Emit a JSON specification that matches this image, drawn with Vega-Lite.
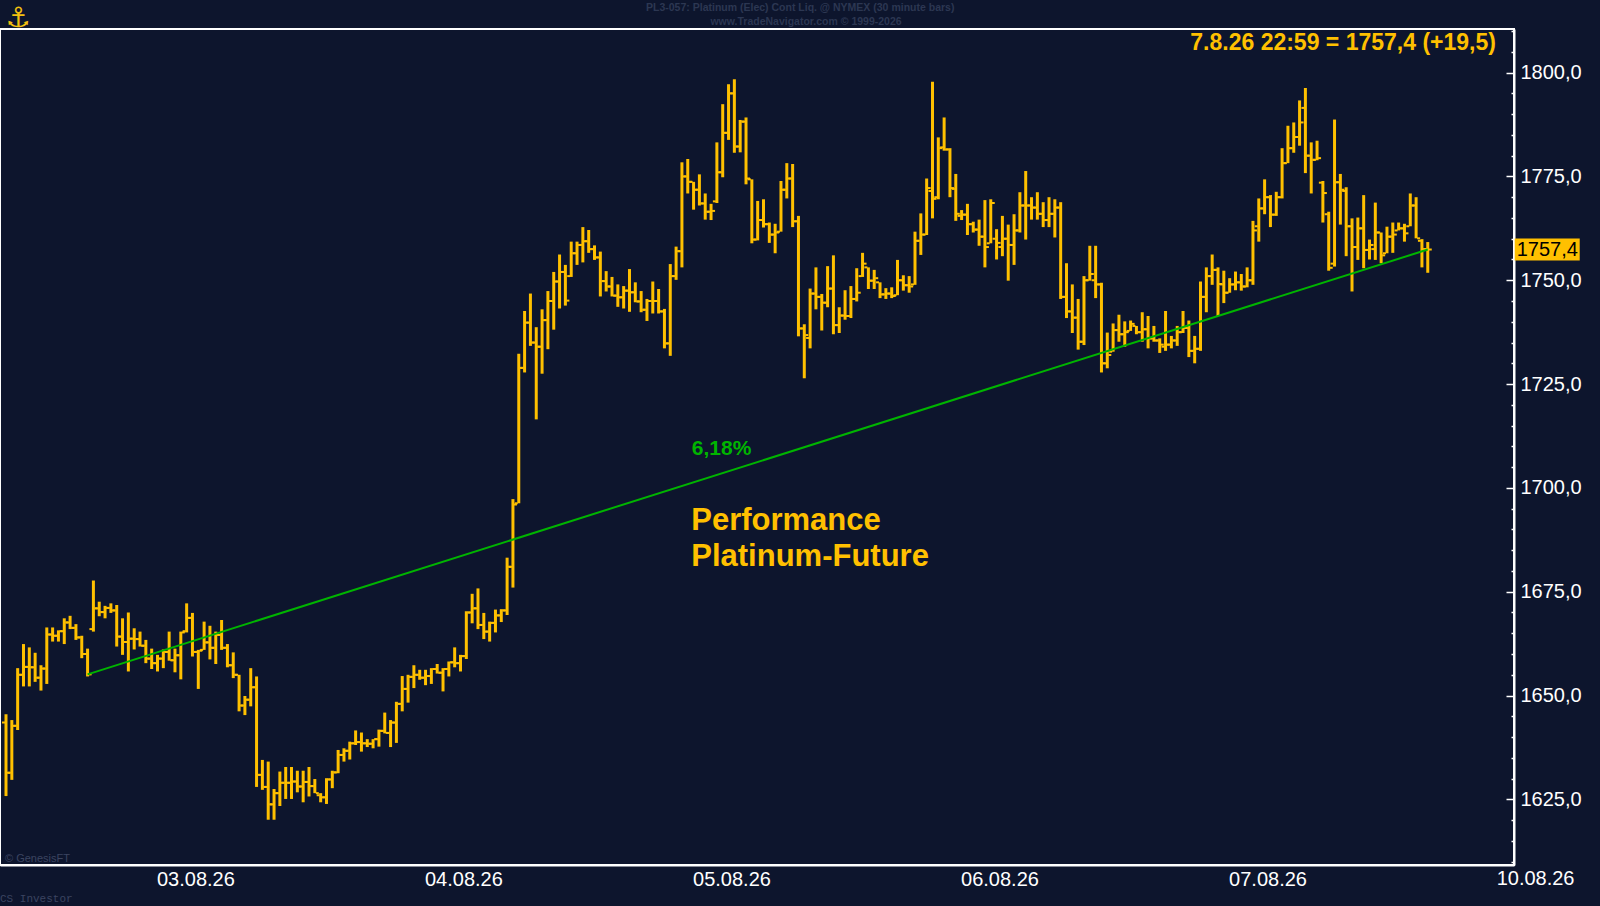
{
  "$schema": "https://vega.github.io/schema/vega-lite/v6.json",
  "width": 1514,
  "height": 836,
  "autosize": "none",
  "padding": {"left": 0, "top": 29, "right": 86, "bottom": 41},
  "background": "#0D152D",
  "datasets": {
    "bars": [
      {"i":0,"o":1643.5,"h":1645.5,"l":1625.8,"c":1631.4},
      {"i":1,"o":1631.4,"h":1644.1,"l":1629.7,"c":1642.7},
      {"i":2,"o":1642.7,"h":1656.6,"l":1641.7,"c":1655.0},
      {"i":3,"o":1655.0,"h":1662.4,"l":1652.2,"c":1656.9},
      {"i":4,"o":1656.9,"h":1661.6,"l":1652.2,"c":1656.8},
      {"i":5,"o":1656.8,"h":1660.3,"l":1653.3,"c":1654.3},
      {"i":6,"o":1654.3,"h":1657.3,"l":1651.2,"c":1656.5},
      {"i":7,"o":1656.5,"h":1666.4,"l":1652.8,"c":1664.7},
      {"i":8,"o":1664.7,"h":1666.4,"l":1663.0,"c":1664.4},
      {"i":9,"o":1664.4,"h":1665.7,"l":1663.0,"c":1665.5},
      {"i":10,"o":1665.5,"h":1668.6,"l":1662.4,"c":1667.6},
      {"i":11,"o":1667.6,"h":1669.2,"l":1666.0,"c":1666.3},
      {"i":12,"o":1666.3,"h":1667.2,"l":1663.4,"c":1664.0},
      {"i":13,"o":1664.0,"h":1664.4,"l":1659.0,"c":1660.0},
      {"i":14,"o":1660.0,"h":1661.3,"l":1654.6,"c":1655.1},
      {"i":15,"o":1666.0,"h":1677.7,"l":1665.4,"c":1671.0},
      {"i":16,"o":1671.0,"h":1672.6,"l":1669.1,"c":1670.1},
      {"i":17,"o":1670.1,"h":1671.6,"l":1668.6,"c":1671.1},
      {"i":18,"o":1671.1,"h":1672.2,"l":1669.9,"c":1670.5},
      {"i":19,"o":1670.5,"h":1671.8,"l":1661.8,"c":1664.2},
      {"i":20,"o":1664.2,"h":1668.6,"l":1659.8,"c":1662.9},
      {"i":21,"o":1662.9,"h":1670.0,"l":1655.8,"c":1663.7},
      {"i":22,"o":1663.7,"h":1666.2,"l":1661.1,"c":1663.6},
      {"i":23,"o":1663.6,"h":1665.4,"l":1661.8,"c":1662.0},
      {"i":24,"o":1662.0,"h":1663.4,"l":1657.8,"c":1658.9},
      {"i":25,"o":1658.9,"h":1661.3,"l":1656.4,"c":1657.8},
      {"i":26,"o":1657.8,"h":1659.8,"l":1655.8,"c":1658.9},
      {"i":27,"o":1658.9,"h":1661.1,"l":1656.6,"c":1660.5},
      {"i":28,"o":1660.5,"h":1665.4,"l":1658.4,"c":1658.5},
      {"i":29,"o":1658.5,"h":1661.3,"l":1655.6,"c":1659.7},
      {"i":30,"o":1659.7,"h":1665.4,"l":1653.9,"c":1665.2},
      {"i":31,"o":1665.5,"h":1672.2,"l":1665.2,"c":1668.7},
      {"i":32,"o":1668.7,"h":1669.9,"l":1659.4,"c":1660.5},
      {"i":33,"o":1660.5,"h":1661.0,"l":1651.6,"c":1660.8},
      {"i":34,"o":1661.0,"h":1667.8,"l":1661.0,"c":1662.8},
      {"i":35,"o":1662.8,"h":1666.8,"l":1658.7,"c":1661.5},
      {"i":36,"o":1661.5,"h":1665.4,"l":1657.6,"c":1664.6},
      {"i":37,"o":1664.6,"h":1668.2,"l":1661.0,"c":1661.5},
      {"i":38,"o":1661.5,"h":1662.4,"l":1656.8,"c":1657.3},
      {"i":39,"o":1657.3,"h":1660.4,"l":1654.2,"c":1655.0},
      {"i":40,"o":1655.0,"h":1655.0,"l":1646.2,"c":1647.6},
      {"i":41,"o":1647.6,"h":1649.9,"l":1645.3,"c":1649.0},
      {"i":42,"o":1649.0,"h":1656.6,"l":1647.4,"c":1652.0},
      {"i":43,"o":1652.0,"h":1654.6,"l":1628.0,"c":1630.9},
      {"i":44,"o":1630.9,"h":1634.5,"l":1627.3,"c":1628.0},
      {"i":45,"o":1628.0,"h":1634.1,"l":1620.1,"c":1623.8},
      {"i":46,"o":1623.8,"h":1627.5,"l":1620.1,"c":1626.5},
      {"i":47,"o":1626.5,"h":1631.7,"l":1623.4,"c":1629.0},
      {"i":48,"o":1629.0,"h":1632.8,"l":1625.1,"c":1629.0},
      {"i":49,"o":1629.0,"h":1632.8,"l":1625.1,"c":1629.3},
      {"i":50,"o":1629.3,"h":1631.9,"l":1626.7,"c":1628.1},
      {"i":51,"o":1628.1,"h":1631.9,"l":1624.3,"c":1629.2},
      {"i":52,"o":1629.2,"h":1632.8,"l":1625.7,"c":1628.2},
      {"i":53,"o":1628.2,"h":1629.9,"l":1626.5,"c":1626.5},
      {"i":54,"o":1626.0,"h":1626.5,"l":1624.3,"c":1625.5},
      {"i":55,"o":1625.5,"h":1630.1,"l":1623.9,"c":1629.8},
      {"i":56,"o":1629.8,"h":1631.9,"l":1627.7,"c":1631.5},
      {"i":57,"o":1631.5,"h":1636.9,"l":1631.3,"c":1635.7},
      {"i":58,"o":1635.7,"h":1637.3,"l":1634.1,"c":1636.7},
      {"i":59,"o":1636.7,"h":1638.9,"l":1634.6,"c":1638.5},
      {"i":60,"o":1638.5,"h":1641.6,"l":1638.1,"c":1638.8},
      {"i":61,"o":1638.8,"h":1641.1,"l":1636.5,"c":1638.5},
      {"i":62,"o":1638.5,"h":1639.5,"l":1637.6,"c":1638.4},
      {"i":63,"o":1638.4,"h":1639.5,"l":1637.3,"c":1639.5},
      {"i":64,"o":1639.5,"h":1641.8,"l":1637.7,"c":1641.5},
      {"i":65,"o":1641.5,"h":1645.9,"l":1640.9,"c":1641.0},
      {"i":66,"o":1641.0,"h":1644.1,"l":1637.6,"c":1643.5},
      {"i":67,"o":1643.5,"h":1648.5,"l":1638.6,"c":1648.0},
      {"i":68,"o":1648.0,"h":1654.7,"l":1646.2,"c":1651.6},
      {"i":69,"o":1651.6,"h":1655.0,"l":1648.3,"c":1654.5},
      {"i":70,"o":1654.5,"h":1657.3,"l":1651.8,"c":1655.0},
      {"i":71,"o":1655.0,"h":1656.2,"l":1653.8,"c":1654.3},
      {"i":72,"o":1654.3,"h":1656.2,"l":1652.5,"c":1654.7},
      {"i":73,"o":1654.7,"h":1656.6,"l":1652.8,"c":1656.4},
      {"i":74,"o":1656.4,"h":1657.6,"l":1655.3,"c":1655.5},
      {"i":75,"o":1655.5,"h":1656.6,"l":1651.0,"c":1656.4},
      {"i":76,"o":1656.4,"h":1658.2,"l":1654.6,"c":1658.0},
      {"i":77,"o":1658.0,"h":1661.6,"l":1656.8,"c":1657.8},
      {"i":78,"o":1657.8,"h":1659.8,"l":1655.8,"c":1659.5},
      {"i":79,"o":1659.5,"h":1670.3,"l":1658.8,"c":1670.0},
      {"i":80,"o":1670.0,"h":1674.5,"l":1667.4,"c":1671.0},
      {"i":81,"o":1671.0,"h":1675.8,"l":1666.0,"c":1667.0},
      {"i":82,"o":1667.0,"h":1669.9,"l":1663.6,"c":1665.4},
      {"i":83,"o":1665.4,"h":1667.8,"l":1663.0,"c":1667.5},
      {"i":84,"o":1667.5,"h":1670.7,"l":1665.2,"c":1669.3},
      {"i":85,"o":1669.3,"h":1670.8,"l":1667.7,"c":1670.5},
      {"i":86,"o":1670.5,"h":1683.2,"l":1669.4,"c":1681.0},
      {"i":87,"o":1681.0,"h":1697.3,"l":1676.0,"c":1696.0},
      {"i":88,"o":1696.3,"h":1732.3,"l":1696.3,"c":1728.9},
      {"i":89,"o":1728.9,"h":1742.6,"l":1727.8,"c":1739.8},
      {"i":90,"o":1739.8,"h":1746.8,"l":1734.2,"c":1735.0},
      {"i":91,"o":1735.0,"h":1738.7,"l":1716.5,"c":1734.0},
      {"i":92,"o":1734.0,"h":1743.0,"l":1727.5,"c":1740.4},
      {"i":93,"o":1740.4,"h":1747.4,"l":1733.4,"c":1745.0},
      {"i":94,"o":1745.0,"h":1752.0,"l":1738.1,"c":1749.7},
      {"i":95,"o":1749.7,"h":1756.2,"l":1743.2,"c":1752.0},
      {"i":96,"o":1752.0,"h":1753.7,"l":1743.9,"c":1745.1},
      {"i":97,"o":1751.0,"h":1759.3,"l":1750.8,"c":1756.5},
      {"i":98,"o":1756.5,"h":1759.3,"l":1753.7,"c":1758.5},
      {"i":99,"o":1758.5,"h":1762.8,"l":1754.3,"c":1759.4},
      {"i":100,"o":1759.4,"h":1762.1,"l":1756.6,"c":1757.5},
      {"i":101,"o":1757.5,"h":1758.4,"l":1754.9,"c":1755.5},
      {"i":102,"o":1755.5,"h":1756.9,"l":1746.1,"c":1749.8},
      {"i":103,"o":1749.8,"h":1752.2,"l":1747.3,"c":1748.5},
      {"i":104,"o":1748.5,"h":1750.8,"l":1746.1,"c":1746.3},
      {"i":105,"o":1746.3,"h":1749.0,"l":1743.6,"c":1745.9},
      {"i":106,"o":1745.9,"h":1748.6,"l":1743.2,"c":1747.5},
      {"i":107,"o":1747.5,"h":1752.7,"l":1742.4,"c":1747.1},
      {"i":108,"o":1747.1,"h":1749.5,"l":1744.7,"c":1744.9},
      {"i":109,"o":1744.9,"h":1747.4,"l":1742.3,"c":1742.9},
      {"i":110,"o":1742.9,"h":1745.5,"l":1740.2,"c":1745.0},
      {"i":111,"o":1745.0,"h":1749.7,"l":1742.0,"c":1745.0},
      {"i":112,"o":1745.0,"h":1747.9,"l":1742.0,"c":1742.5},
      {"i":113,"o":1742.5,"h":1743.1,"l":1733.6,"c":1734.8},
      {"i":114,"o":1734.8,"h":1753.9,"l":1731.8,"c":1751.0},
      {"i":115,"o":1751.0,"h":1758.1,"l":1750.1,"c":1757.0},
      {"i":116,"o":1757.0,"h":1778.4,"l":1753.1,"c":1775.0},
      {"i":117,"o":1775.0,"h":1779.2,"l":1770.9,"c":1773.7},
      {"i":118,"o":1773.7,"h":1773.7,"l":1767.0,"c":1771.8},
      {"i":119,"o":1771.8,"h":1775.5,"l":1768.0,"c":1768.5},
      {"i":120,"o":1768.5,"h":1770.9,"l":1764.6,"c":1766.5},
      {"i":121,"o":1766.5,"h":1768.4,"l":1764.5,"c":1766.7},
      {"i":122,"o":1769.0,"h":1783.2,"l":1768.6,"c":1776.0},
      {"i":123,"o":1776.0,"h":1792.4,"l":1774.8,"c":1785.5},
      {"i":124,"o":1785.5,"h":1797.2,"l":1783.8,"c":1795.0},
      {"i":125,"o":1795.0,"h":1798.4,"l":1780.7,"c":1782.2},
      {"i":126,"o":1782.2,"h":1788.6,"l":1780.8,"c":1788.2},
      {"i":127,"o":1788.2,"h":1789.2,"l":1773.1,"c":1774.5},
      {"i":128,"o":1774.3,"h":1774.3,"l":1758.9,"c":1759.8},
      {"i":129,"o":1759.8,"h":1769.1,"l":1759.6,"c":1764.5},
      {"i":130,"o":1764.5,"h":1769.5,"l":1762.7,"c":1763.5},
      {"i":131,"o":1763.5,"h":1763.9,"l":1759.0,"c":1761.0},
      {"i":132,"o":1761.0,"h":1763.6,"l":1756.5,"c":1761.5},
      {"i":133,"o":1761.7,"h":1773.9,"l":1761.7,"c":1771.8},
      {"i":134,"o":1771.8,"h":1778.2,"l":1769.7,"c":1774.5},
      {"i":135,"o":1774.5,"h":1778.0,"l":1762.8,"c":1764.2},
      {"i":136,"o":1764.2,"h":1765.5,"l":1736.5,"c":1738.4},
      {"i":137,"o":1738.4,"h":1739.4,"l":1726.4,"c":1736.8},
      {"i":138,"o":1736.1,"h":1748.0,"l":1733.6,"c":1746.8},
      {"i":139,"o":1746.8,"h":1753.1,"l":1743.0,"c":1746.0},
      {"i":140,"o":1746.0,"h":1746.7,"l":1737.9,"c":1744.6},
      {"i":141,"o":1744.6,"h":1753.4,"l":1743.5,"c":1748.0},
      {"i":142,"o":1748.0,"h":1756.0,"l":1737.0,"c":1739.2},
      {"i":143,"o":1739.2,"h":1743.5,"l":1737.3,"c":1741.5},
      {"i":144,"o":1741.5,"h":1747.6,"l":1740.5,"c":1741.4},
      {"i":145,"o":1741.4,"h":1748.6,"l":1740.9,"c":1745.5},
      {"i":146,"o":1745.5,"h":1752.9,"l":1744.9,"c":1747.0},
      {"i":147,"o":1751.0,"h":1756.6,"l":1750.8,"c":1754.0},
      {"i":148,"o":1753.1,"h":1753.1,"l":1747.9,"c":1749.9},
      {"i":149,"o":1749.9,"h":1752.5,"l":1747.9,"c":1750.5},
      {"i":150,"o":1749.5,"h":1749.5,"l":1745.7,"c":1746.6},
      {"i":151,"o":1746.6,"h":1748.1,"l":1745.5,"c":1746.8},
      {"i":152,"o":1746.8,"h":1748.3,"l":1745.7,"c":1746.2},
      {"i":153,"o":1746.4,"h":1754.9,"l":1746.4,"c":1750.0},
      {"i":154,"o":1750.0,"h":1751.2,"l":1747.5,"c":1748.8},
      {"i":155,"o":1748.8,"h":1751.0,"l":1747.0,"c":1748.5},
      {"i":156,"o":1749.0,"h":1761.7,"l":1748.9,"c":1759.5},
      {"i":157,"o":1759.5,"h":1766.1,"l":1756.1,"c":1761.0},
      {"i":158,"o":1761.0,"h":1774.5,"l":1760.9,"c":1772.2},
      {"i":159,"o":1771.5,"h":1797.8,"l":1764.9,"c":1769.6},
      {"i":160,"o":1770.0,"h":1784.4,"l":1769.5,"c":1781.8},
      {"i":161,"o":1782.0,"h":1789.2,"l":1781.2,"c":1781.5},
      {"i":162,"o":1781.5,"h":1781.8,"l":1770.0,"c":1772.2},
      {"i":163,"o":1772.0,"h":1775.6,"l":1764.3,"c":1766.0},
      {"i":164,"o":1765.5,"h":1766.9,"l":1764.5,"c":1765.8},
      {"i":165,"o":1765.8,"h":1768.4,"l":1760.9,"c":1763.5},
      {"i":166,"o":1763.5,"h":1764.1,"l":1761.5,"c":1762.2},
      {"i":167,"o":1762.2,"h":1764.6,"l":1758.3,"c":1760.5},
      {"i":168,"o":1760.5,"h":1769.3,"l":1753.1,"c":1758.0},
      {"i":169,"o":1758.9,"h":1769.5,"l":1758.9,"c":1768.6},
      {"i":170,"o":1760.0,"h":1762.3,"l":1755.0,"c":1759.0},
      {"i":171,"o":1758.0,"h":1765.5,"l":1755.8,"c":1760.0},
      {"i":172,"o":1760.0,"h":1763.4,"l":1749.9,"c":1758.5},
      {"i":173,"o":1758.5,"h":1765.9,"l":1753.7,"c":1762.0},
      {"i":174,"o":1762.0,"h":1771.2,"l":1761.5,"c":1768.0},
      {"i":175,"o":1768.0,"h":1776.3,"l":1759.8,"c":1768.0},
      {"i":176,"o":1768.0,"h":1770.0,"l":1764.6,"c":1767.5},
      {"i":177,"o":1767.5,"h":1771.2,"l":1764.6,"c":1766.0},
      {"i":178,"o":1766.0,"h":1768.8,"l":1762.8,"c":1764.5},
      {"i":179,"o":1764.5,"h":1770.0,"l":1762.8,"c":1766.0},
      {"i":180,"o":1766.0,"h":1769.5,"l":1760.3,"c":1767.5},
      {"i":181,"o":1767.5,"h":1768.8,"l":1745.5,"c":1746.0},
      {"i":182,"o":1746.0,"h":1754.1,"l":1740.9,"c":1742.5},
      {"i":183,"o":1742.5,"h":1749.0,"l":1737.3,"c":1741.0},
      {"i":184,"o":1741.0,"h":1745.5,"l":1733.3,"c":1735.2},
      {"i":185,"o":1735.2,"h":1751.0,"l":1734.4,"c":1750.0},
      {"i":186,"o":1750.0,"h":1758.3,"l":1749.9,"c":1751.5},
      {"i":187,"o":1750.0,"h":1758.3,"l":1745.7,"c":1749.0},
      {"i":188,"o":1749.0,"h":1749.4,"l":1727.8,"c":1730.0},
      {"i":189,"o":1730.0,"h":1737.4,"l":1728.8,"c":1732.0},
      {"i":190,"o":1732.8,"h":1739.6,"l":1732.8,"c":1738.0},
      {"i":191,"o":1738.0,"h":1741.7,"l":1735.2,"c":1737.0},
      {"i":192,"o":1737.0,"h":1740.1,"l":1734.0,"c":1737.5},
      {"i":193,"o":1737.8,"h":1740.3,"l":1737.8,"c":1739.5},
      {"i":194,"o":1739.0,"h":1739.0,"l":1737.0,"c":1737.5},
      {"i":195,"o":1737.5,"h":1742.3,"l":1735.2,"c":1738.2},
      {"i":196,"o":1738.2,"h":1741.4,"l":1733.6,"c":1736.0},
      {"i":197,"o":1736.0,"h":1739.0,"l":1735.2,"c":1735.5},
      {"i":198,"o":1735.5,"h":1736.0,"l":1732.5,"c":1734.5},
      {"i":199,"o":1734.0,"h":1742.6,"l":1733.0,"c":1734.5},
      {"i":200,"o":1734.5,"h":1736.6,"l":1733.6,"c":1735.5},
      {"i":201,"o":1735.5,"h":1739.0,"l":1734.2,"c":1737.5},
      {"i":202,"o":1737.5,"h":1742.6,"l":1737.3,"c":1738.5},
      {"i":203,"o":1738.5,"h":1740.3,"l":1731.5,"c":1733.0},
      {"i":204,"o":1733.0,"h":1736.6,"l":1730.0,"c":1733.5},
      {"i":205,"o":1733.5,"h":1749.7,"l":1733.0,"c":1746.0},
      {"i":206,"o":1746.0,"h":1753.1,"l":1742.3,"c":1751.0},
      {"i":207,"o":1751.0,"h":1756.2,"l":1748.9,"c":1752.5},
      {"i":208,"o":1752.5,"h":1753.1,"l":1741.4,"c":1749.1},
      {"i":209,"o":1749.0,"h":1752.3,"l":1744.5,"c":1747.0},
      {"i":210,"o":1747.0,"h":1750.5,"l":1747.0,"c":1749.0},
      {"i":211,"o":1749.0,"h":1752.1,"l":1747.6,"c":1749.5},
      {"i":212,"o":1749.5,"h":1751.5,"l":1747.5,"c":1748.5},
      {"i":213,"o":1748.5,"h":1753.1,"l":1748.3,"c":1750.0},
      {"i":214,"o":1750.0,"h":1764.3,"l":1748.9,"c":1762.0},
      {"i":215,"o":1763.0,"h":1769.7,"l":1759.3,"c":1767.3},
      {"i":216,"o":1767.3,"h":1774.3,"l":1765.9,"c":1770.0},
      {"i":217,"o":1770.0,"h":1770.5,"l":1762.8,"c":1765.8},
      {"i":218,"o":1765.8,"h":1771.3,"l":1765.5,"c":1770.0},
      {"i":219,"o":1770.0,"h":1781.8,"l":1769.7,"c":1778.2},
      {"i":220,"o":1778.2,"h":1787.2,"l":1778.2,"c":1781.8},
      {"i":221,"o":1781.8,"h":1788.0,"l":1780.7,"c":1784.5},
      {"i":222,"o":1784.5,"h":1793.3,"l":1782.4,"c":1788.0},
      {"i":223,"o":1791.5,"h":1796.3,"l":1775.8,"c":1780.0},
      {"i":224,"o":1780.0,"h":1783.2,"l":1770.9,"c":1779.0},
      {"i":225,"o":1779.0,"h":1783.6,"l":1778.9,"c":1779.4},
      {"i":226,"o":1773.5,"h":1773.9,"l":1763.9,"c":1771.0},
      {"i":227,"o":1765.9,"h":1766.5,"l":1752.3,"c":1753.0},
      {"i":228,"o":1754.0,"h":1788.7,"l":1753.3,"c":1773.6},
      {"i":229,"o":1773.6,"h":1775.6,"l":1763.4,"c":1771.8},
      {"i":230,"o":1771.5,"h":1772.4,"l":1755.8,"c":1763.0},
      {"i":231,"o":1763.0,"h":1764.9,"l":1747.3,"c":1758.0},
      {"i":232,"o":1758.0,"h":1765.1,"l":1754.9,"c":1762.5},
      {"i":233,"o":1762.5,"h":1770.5,"l":1752.9,"c":1757.3},
      {"i":234,"o":1757.3,"h":1759.8,"l":1755.0,"c":1758.5},
      {"i":235,"o":1757.5,"h":1768.7,"l":1754.9,"c":1761.5},
      {"i":236,"o":1761.5,"h":1761.5,"l":1754.1,"c":1756.0},
      {"i":237,"o":1756.5,"h":1762.9,"l":1756.5,"c":1760.5},
      {"i":238,"o":1760.5,"h":1763.9,"l":1756.6,"c":1761.0},
      {"i":239,"o":1762.0,"h":1763.9,"l":1762.0,"c":1762.5},
      {"i":240,"o":1762.5,"h":1763.6,"l":1759.3,"c":1761.3},
      {"i":241,"o":1763.0,"h":1770.9,"l":1763.0,"c":1768.0},
      {"i":242,"o":1768.0,"h":1770.0,"l":1760.1,"c":1760.1},
      {"i":243,"o":1759.5,"h":1759.9,"l":1753.1,"c":1757.5},
      {"i":244,"o":1757.5,"h":1759.2,"l":1751.8,"c":1757.4}
    ],
    "trend": [
      {"i": 14, "v": 1655.1},
      {"i": 244, "v": 1757.4}
    ]
  },
  "data": {"name": "bars"},
  "encoding": {
    "x": {
      "field": "i",
      "type": "quantitative",
      "title": null,
      "scale": {"domain": [-1.03, 258.8], "nice": false, "zero": false},
      "axis": {
        "orient": "bottom",
        "values": [32.5, 78.5, 124.5, 170.5, 216.5],
        "labelExpr": "['03.08.26','04.08.26','05.08.26','06.08.26','07.08.26'][round((datum.value - 32.5) / 46)]",
        "ticks": false,
        "grid": false,
        "labelPadding": 4,
        "labelFlush": false,
        "labelOverlap": false,
        "labelBound": false
      }
    },
    "y": {
      "field": "l",
      "type": "quantitative",
      "title": null,
      "scale": {"domain": [1609.2, 1810.5], "nice": false, "zero": false},
      "axis": {
        "orient": "right",
        "tickCount": 41,
        "values": [1610, 1615, 1620, 1625, 1630, 1635, 1640, 1645, 1650, 1655, 1660, 1665, 1670, 1675, 1680, 1685, 1690, 1695, 1700, 1705, 1710, 1715, 1720, 1725, 1730, 1735, 1740, 1745, 1750, 1755, 1760, 1765, 1770, 1775, 1780, 1785, 1790, 1795, 1800, 1805, 1810],
        "labelExpr": "datum.value % 25 === 0 ? replace(format(datum.value, '.1f'), '.', ',') : ''",
        "tickSize": {"condition": {"test": "datum.value % 25 === 0", "value": -8}, "value": -3},
        "tickColor": "#FFFFFF",
        "tickWidth": 1.5,
        "labelPadding": 14,
        "labelOverlap": false,
        "labelFlush": false,
        "grid": false
      }
    }
  },
  "layer": [
    {
      "mark": {"type": "rule", "color": "#FFC000", "strokeWidth": 3},
      "encoding": {"y2": {"field": "h"}}
    },
    {
      "mark": {"type": "tick", "orient": "horizontal", "color": "#FFC000", "opacity": 1, "size": 3, "thickness": 2, "xOffset": -2.5},
      "encoding": {"y": {"field": "o", "type": "quantitative", "title": null}}
    },
    {
      "mark": {"type": "tick", "orient": "horizontal", "color": "#FFC000", "opacity": 1, "size": 3, "thickness": 2, "xOffset": 2.5},
      "encoding": {"y": {"field": "c", "type": "quantitative", "title": null}}
    },
    {
      "data": {"name": "trend"},
      "mark": {"type": "line", "color": "#00B400", "strokeWidth": 2},
      "encoding": {"y": {"field": "v", "type": "quantitative", "title": null}}
    },
    {
      "data": {"values": [{"i": 117.7, "v": 1709.4}]},
      "mark": {"type": "text", "align": "left", "baseline": "middle", "font": "Liberation Sans", "fontSize": 21, "fontWeight": "bold", "color": "#00B400"},
      "encoding": {
        "y": {"field": "v", "type": "quantitative", "title": null},
        "text": {"value": "6,18%"}
      }
    },
    {
      "data": {"values": [{"i": 117.6, "v": 1692.0}]},
      "mark": {"type": "text", "align": "left", "baseline": "middle", "font": "Liberation Sans", "fontSize": 31, "fontWeight": "bold", "color": "#FFC000", "lineHeight": 36},
      "encoding": {
        "y": {"field": "v", "type": "quantitative", "title": null},
        "text": {"value": ["Performance", "Platinum-Future"]}
      }
    },
    {
      "data": {"values": [{"i": 255.7, "v": 1807.2}]},
      "mark": {"type": "text", "align": "right", "baseline": "middle", "font": "Liberation Sans", "fontSize": 23, "fontWeight": "bold", "color": "#FFC000"},
      "encoding": {
        "y": {"field": "v", "type": "quantitative", "title": null},
        "text": {"value": "7.8.26 22:59 = 1757,4 (+19,5)"}
      }
    },
    {
      "data": {"values": [{"i": 264.5, "v": 1757.4}]},
      "mark": {"type": "tick", "orient": "horizontal", "color": "#FFC000", "opacity": 1, "size": 65, "thickness": 22},
      "encoding": {
        "y": {"field": "v", "type": "quantitative", "title": null}
      }
    },
    {
      "data": {"values": [{"i": 259.1, "v": 1757.4}]},
      "mark": {"type": "text", "align": "left", "baseline": "middle", "dx": 1, "font": "Liberation Sans", "fontSize": 20, "color": "#000000"},
      "encoding": {
        "y": {"field": "v", "type": "quantitative", "title": null},
        "text": {"value": "1757,4"}
      }
    },
    {
      "data": {"values": [{"i": 262.5, "v": 1605.8}]},
      "mark": {"type": "text", "align": "center", "baseline": "middle", "font": "Liberation Sans", "fontSize": 20, "color": "#FFFFFF"},
      "encoding": {
        "y": {"field": "v", "type": "quantitative", "title": null},
        "text": {"value": "10.08.26"}
      }
    },
    {
      "data": {"values": [{"i": 136.3, "v": 1815.6}]},
      "mark": {"type": "text", "align": "center", "baseline": "middle", "font": "Liberation Sans", "fontSize": 10.5, "fontWeight": "bold", "color": "#2C3752"},
      "encoding": {
        "y": {"field": "v", "type": "quantitative", "title": null},
        "text": {"value": "PL3-057:  Platinum (Elec) Cont Liq. @ NYMEX  (30 minute bars)"}
      }
    },
    {
      "data": {"values": [{"i": 137.3, "v": 1812.3}]},
      "mark": {"type": "text", "align": "center", "baseline": "middle", "font": "Liberation Sans", "fontSize": 10.5, "fontWeight": "bold", "color": "#2C3752"},
      "encoding": {
        "y": {"field": "v", "type": "quantitative", "title": null},
        "text": {"value": "www.TradeNavigator.com © 1999-2026"}
      }
    },
    {
      "data": {"values": [{"i": 2.06, "v": 1813.0}]},
      "mark": {"type": "text", "align": "center", "baseline": "middle", "font": "DejaVu Sans", "fontSize": 28, "fontWeight": "bold", "color": "#F2C010"},
      "encoding": {
        "y": {"field": "v", "type": "quantitative", "title": null},
        "text": {"value": "⚓"}
      }
    },
    {
      "data": {"values": [{"i": -0.17, "v": 1610.6}]},
      "mark": {"type": "text", "align": "left", "baseline": "middle", "font": "Liberation Sans", "fontSize": 11, "color": "#3B4460"},
      "encoding": {
        "y": {"field": "v", "type": "quantitative", "title": null},
        "text": {"value": "© GenesisFT"}
      }
    },
    {
      "data": {"values": [{"i": -1.03, "v": 1601.0}]},
      "mark": {"type": "text", "align": "left", "baseline": "middle", "font": "Liberation Mono", "fontSize": 11, "color": "#3B4460"},
      "encoding": {
        "y": {"field": "v", "type": "quantitative", "title": null},
        "text": {"value": "CS Investor"}
      }
    }
  ],
  "config": {
    "view": {"stroke": "#FFFFFF", "strokeWidth": 2},
    "axis": {
      "labelFont": "Liberation Sans",
      "labelFontSize": 20,
      "labelColor": "#FFFFFF",
      "domainColor": "#FFFFFF",
      "domainWidth": 2
    }
  }
}
